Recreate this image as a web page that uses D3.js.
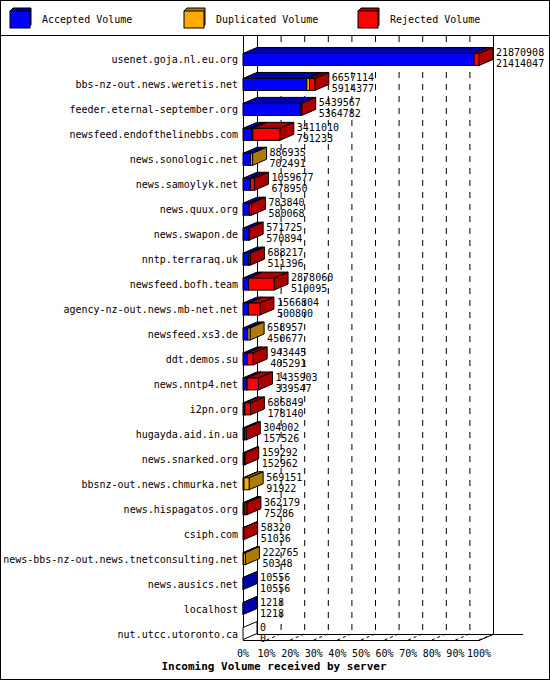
<!DOCTYPE html>
<html><head><meta charset="utf-8">
<script src="https://cdn.jsdelivr.net/npm/d3@7"></script>
<style>body{margin:0;background:#fff}text{font-family:"DejaVu Sans Mono",monospace;font-size:10px}</style>
</head><body><svg id="chart" width="550" height="680"></svg>
<script>
var servers = ["usenet.goja.nl.eu.org","bbs-nz-out.news.weretis.net","feeder.eternal-september.org","newsfeed.endofthelinebbs.com","news.sonologic.net","news.samoylyk.net","news.quux.org","news.swapon.de","nntp.terraraq.uk","newsfeed.bofh.team","agency-nz-out.news.mb-net.net","newsfeed.xs3.de","ddt.demos.su","news.nntp4.net","i2pn.org","hugayda.aid.in.ua","news.snarked.org","bbsnz-out.news.chmurka.net","news.hispagatos.org","csiph.com","news-bbs-nz-out.news.tnetconsulting.net","news.ausics.net","localhost","nut.utcc.utoronto.ca"];
var total = [21870908,6657114,5439567,3411010,886935,1059677,783840,571725,688217,2878060,1566804,658957,943445,1435903,686849,304002,159292,569151,362179,58320,222765,10556,1218,0];
var accepted = [21414047,5914377,5364782,791233,702491,678950,580068,570894,511396,510095,500800,450677,405291,339547,178140,157526,152962,91922,75286,51036,50348,10556,1218,0];
var duplicated = [0,250000,0,120000,184444,0,30000,0,30000,0,0,208280,0,40000,0,0,0,477229,100000,0,172417,0,0,0];
var ticks = ["0%","10%","20%","30%","40%","50%","60%","70%","80%","90%","100%"];
var legend = ["Accepted Volume","Duplicated Volume","Rejected Volume"];

var fill = ["#0000ff","#ffaa00","#ff0000"];
var dark = ["#0000aa","#b07a08","#aa0000"];
var dx = 14, dy = -6, bh = 12;
var svg = d3.select("#chart");

svg.append("rect").attr("x",0.5).attr("y",0.5).attr("width",549).attr("height",679).attr("fill","#fff").attr("stroke","#000");
svg.append("line").attr("x1",0).attr("x2",550).attr("y1",35.5).attr("y2",35.5).attr("stroke","#000");

// legend
var lx = d3.scalePoint().domain(legend).range([10,358]);
legend.forEach(function(l,i){
  var g = svg.append("g");
  var x = lx(l);
  g.append("path").attr("d","M"+x+",11l3,-3h18v17l-3,3z").attr("fill",dark[i]).attr("stroke","#000");
  g.append("rect").attr("x",x).attr("y",11).attr("width",20).attr("height",17).attr("fill",fill[i]).attr("stroke","#000");
  svg.append("text").attr("x",x+32).attr("y",23).text(l);
});

var x = d3.scaleLinear().domain([0,1]).range([243,479]);
var y = d3.scaleBand().domain(servers).range([47,646]).padding(0);
var maxv = d3.max(total);
var plotTop = 36, floorY = 640;

// back walls and grid
svg.append("line").attr("x1",x(0)+dx+0.5).attr("x2",x(0)+dx+0.5).attr("y1",plotTop).attr("y2",floorY+dy).attr("stroke","#000");
svg.append("line").attr("x1",x(1)+dx+0.5).attr("x2",x(1)+dx+0.5).attr("y1",plotTop).attr("y2",floorY+dy).attr("stroke","#000");
svg.append("line").attr("x1",x(0)+0.5).attr("x2",x(0)+0.5).attr("y1",plotTop).attr("y2",floorY).attr("stroke","#000");
svg.append("line").attr("x1",x(0)+dx).attr("x2",523).attr("y1",floorY+dy+0.5).attr("y2",floorY+dy+0.5).attr("stroke","#000");
svg.append("line").attr("x1",x(0)).attr("x2",x(1)).attr("y1",floorY+0.5).attr("y2",floorY+0.5).attr("stroke","#000");
svg.append("line").attr("x1",x(1)).attr("x2",x(1)+dx).attr("y1",floorY+0.5).attr("y2",floorY+dy+0.5).attr("stroke","#000");
ticks.forEach(function(t,i){
  var xv = x(i/10);
  if(i>0 && i<10) svg.append("line").attr("x1",xv+dx+0.5).attr("x2",xv+dx+0.5).attr("y1",plotTop).attr("y2",floorY+dy)
    .attr("stroke","#000").attr("stroke-dasharray","6,6");
  if(i>0) svg.append("line").attr("x1",xv).attr("x2",xv+dx).attr("y1",floorY).attr("y2",floorY+dy).attr("stroke","#000").attr("stroke-dasharray","3,3");
  svg.append("text").attr("x",xv).attr("y",floorY+17).attr("text-anchor","middle").text(t);
});

servers.forEach(function(s,i){
  var c = y(s) + y.bandwidth()/2;
  var g = svg.append("g");
  var w = (x(total[i]/maxv) - x(0));
  var rej = total[i]-accepted[i]-duplicated[i];
  var vals = [accepted[i],duplicated[i],rej];
  var y0 = c - bh/2;
  if(total[i] === 0){
    g.append("path").attr("d","M"+x(0)+","+y0+"l"+dx+","+dy+"v"+bh+"l"+(-dx)+","+(-dy)+"z").attr("fill","#fff").attr("stroke","#000");
  } else {
    var last = 0;
    vals.forEach(function(v,k){ if(v>0) last=k; });
    var cx = x(0);
    vals.forEach(function(v,k){
      var sw = w*v/total[i];
      if(v<=0) return;
      g.append("path").attr("d","M"+cx+","+y0+"l"+dx+","+dy+"h"+sw+"l"+(-dx)+","+(-dy)+"z").attr("fill",dark[k]).attr("stroke","#000");
      cx += sw;
    });
    g.append("path").attr("d","M"+(x(0)+w)+","+y0+"l"+dx+","+dy+"v"+bh+"l"+(-dx)+","+(-dy)+"z").attr("fill",dark[last]).attr("stroke","#000");
    cx = x(0);
    vals.forEach(function(v,k){
      var sw = w*v/total[i];
      if(v<=0) return;
      g.append("rect").attr("x",cx).attr("y",y0).attr("width",sw).attr("height",bh).attr("fill",fill[k]).attr("stroke","#000");
      cx += sw;
    });
  }
  var tx = x(0) + w + dx + 3;
  svg.append("text").attr("x",tx).attr("y",c-3).text(total[i]);
  svg.append("text").attr("x",tx).attr("y",c+8).text(accepted[i]);
  svg.append("text").attr("x",238).attr("y",c+4).attr("text-anchor","end").text(s);
});

svg.append("text").attr("x",274).attr("y",670).attr("text-anchor","middle").attr("font-weight","bold").style("font-size","11px")
  .text("Incoming Volume received by server");
</script></body></html>
